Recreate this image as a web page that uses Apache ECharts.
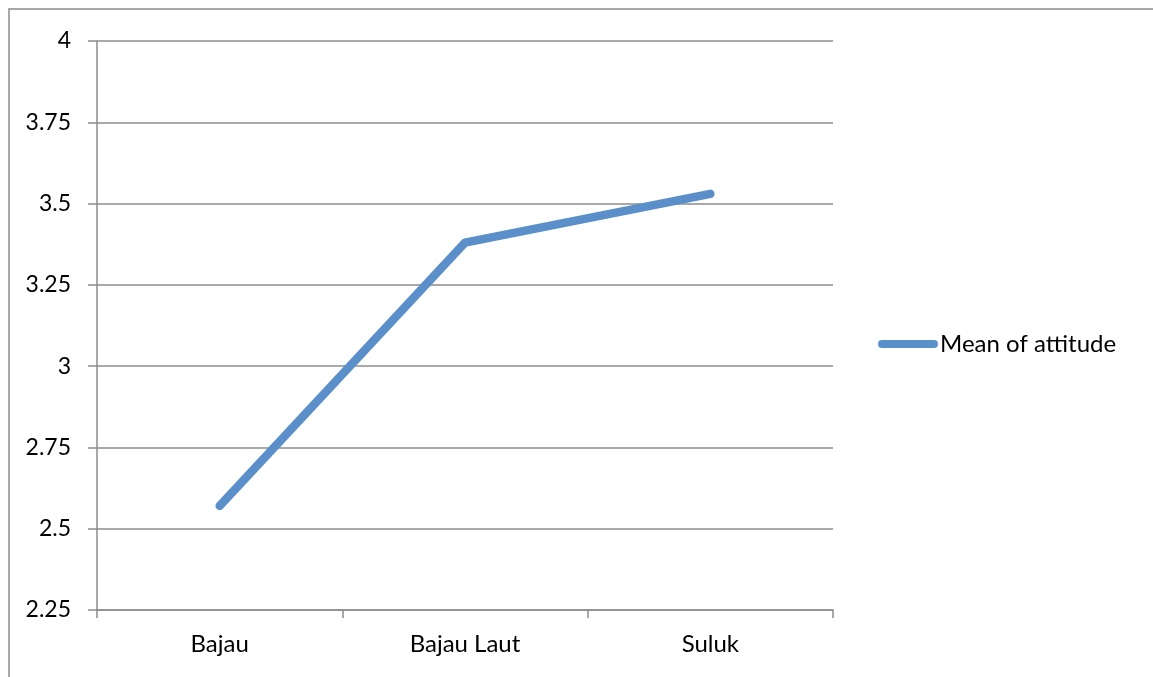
<!DOCTYPE html>
<html>
<head>
<meta charset="utf-8">
<title>Mean of attitude</title>
<script src="https://cdn.jsdelivr.net/npm/echarts@6/dist/echarts.min.js"></script>
<style>
  html, body { margin: 0; padding: 0; background: #ffffff; }
  #chart { width: 1153px; height: 677px; }
</style>
</head>
<body>
<div id="chart"></div>
<script>
// Ethnic groups along the category axis
const groups = ['Bajau', 'Bajau Laut', 'Suluk'];
// Mean attitude score per group
const meanAttitude = [2.57, 3.38, 3.53];
// Value axis range and step
const yMin = 2.25;
const yMax = 4;
const yStep = 0.25;
const seriesName = 'Mean of attitude';

const FONT = 'Lato, "Liberation Sans", sans-serif';
const AXIS_GREY = '#8c8c8c';
const LINE_BLUE = '#5b8fc9';

const chart = echarts.init(document.getElementById('chart'), null, { renderer: 'canvas' });

chart.setOption({
  animation: false,
  backgroundColor: '#ffffff',
  textStyle: { fontFamily: FONT },
  graphic: [{
    // chart-area frame (right and bottom edges fall outside the page)
    type: 'rect',
    left: 6.5, top: 6.5,
    shape: { width: 1300, height: 800 },
    style: { fill: 'none', stroke: '#8c8c8c', lineWidth: 1.5 },
    silent: true,
    z: -1
  }],
  grid: { left: 97, right: 320, top: 41, bottom: 67, containLabel: false },
  legend: {
    data: [{ name: seriesName }],
    left: 878,
    top: 332,
    padding: 0,
    orient: 'vertical',
    icon: 'path://M4,0 L56,0 A4,4 0 0 1 56,8 L4,8 A4,4 0 0 1 4,0 Z',
    itemWidth: 60,
    itemHeight: 8,
    textStyle: { fontFamily: FONT, fontSize: 24, color: '#000000', padding: [0, 0, 0, -3] }
  },
  xAxis: {
    type: 'category',
    data: groups,
    boundaryGap: true,
    axisLine: { lineStyle: { color: AXIS_GREY, width: 1.5 } },
    axisTick: { show: true, length: 8, lineStyle: { color: AXIS_GREY, width: 1.5 } },
    axisLabel: { color: '#000000', fontSize: 24, fontFamily: FONT, margin: 22 },
    splitLine: { show: false }
  },
  yAxis: {
    type: 'value',
    min: yMin,
    max: yMax,
    interval: yStep,
    axisLine: { show: true, lineStyle: { color: AXIS_GREY, width: 1.5 } },
    axisTick: { show: true, length: 9, lineStyle: { color: AXIS_GREY, width: 1.5 } },
    axisLabel: { color: '#000000', fontSize: 23, fontFamily: FONT, margin: 26, padding: [5, 0, 0, 0] },
    splitLine: { show: true, lineStyle: { color: AXIS_GREY, width: 1.5 } }
  },
  series: [{
    name: seriesName,
    type: 'line',
    data: meanAttitude,
    showSymbol: false,
    symbol: 'none',
    lineStyle: { color: LINE_BLUE, width: 8.5, cap: 'round', join: 'round' },
    itemStyle: { color: LINE_BLUE }
  }]
});
</script>
</body>
</html>
